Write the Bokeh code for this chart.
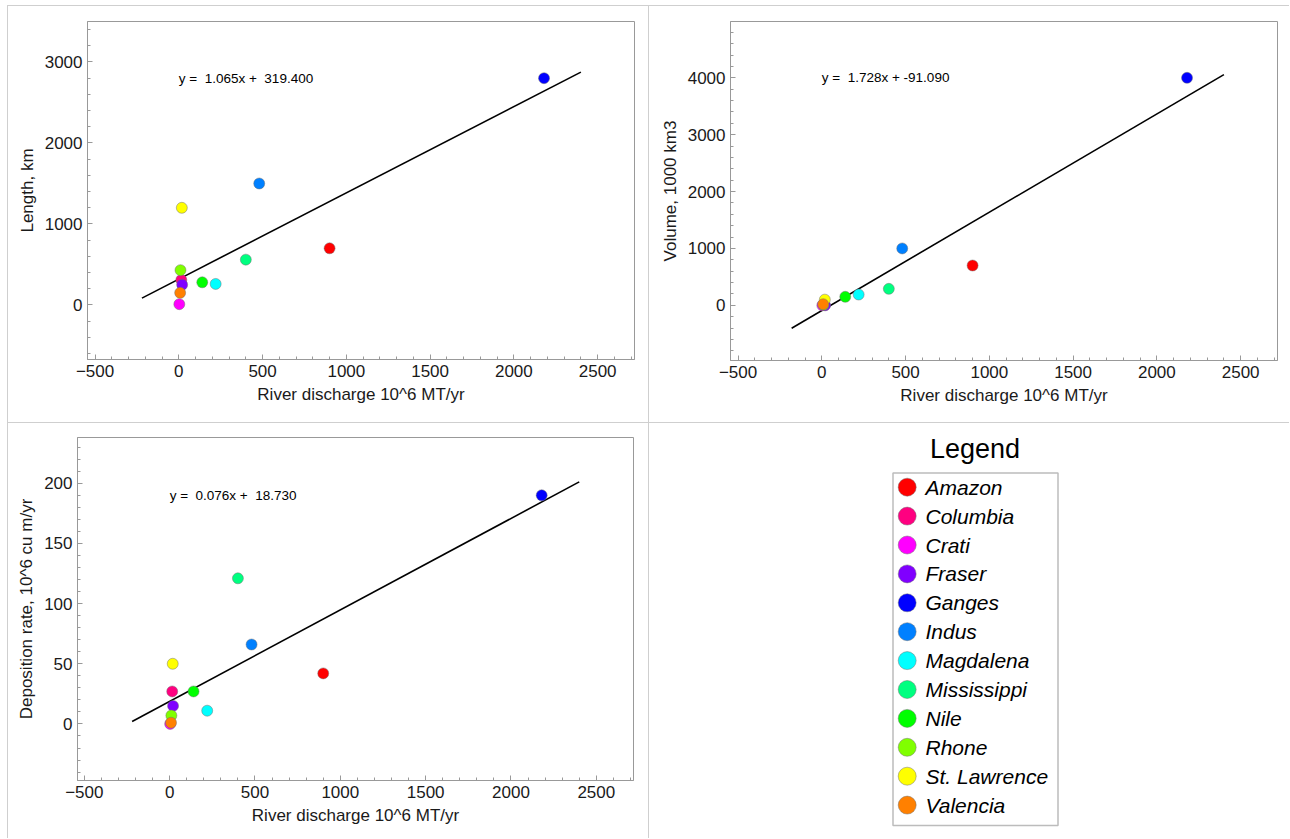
from bokeh.plotting import figure
from bokeh.models import (ColumnDataSource, SingleIntervalTicker, LinearAxis,
                          Range1d, Label, BoxAnnotation, Grid, Div)
from bokeh.embed import file_html
from bokeh.resources import INLINE
from bokeh.core.properties import value

# ---------------- data ----------------
rivers = ["Amazon", "Columbia", "Crati", "Fraser", "Ganges", "Indus",
          "Magdalena", "Mississippi", "Nile", "Rhone", "St. Lawrence", "Valencia"]
colors = ["#ff0000", "#ff0080", "#ff00ff", "#8000ff", "#0000ff", "#0080ff",
          "#00ffff", "#00ff80", "#00ff00", "#80ff00", "#ffff00", "#ff8000"]
discharge = [900, 15, 3, 20, 2180, 480, 220, 400, 140, 10, 18, 8]          # 10^6 MT/yr
length_km = [700, 310, 10, 250, 2800, 1500, 260, 560, 280, 430, 1200, 150]
volume = [700, 5, 0, 0, 4000, 1000, 190, 290, 150, 10, 100, 20]           # 1000 km3
deposition = [42, 27, 0, 15, 190, 66, 11, 121, 27, 7, 50, 1]              # 10^6 cu m/yr

fit_length = (1.065, 319.400)
fit_volume = (1.728, -91.090)
fit_deposition = (0.076, 18.730)
NB = "\u00a0"
eq_length = "y =" + NB + " 1.065x +" + NB + " 319.400"
eq_volume = "y =" + NB + " 1.728x + -91.090"
eq_deposition = "y =" + NB + " 0.076x +" + NB + " 18.730"
fit_x_length = [-220, 2400]
fit_x_volume = [-180, 2400]
fit_x_deposition = [-220, 2400]

x_label = "River discharge 10^6 MT/yr"
legend_title = "Legend"

FONT = "Liberation Sans"
FRAME = "#999999"
TXT = "#1a1a1a"
SEP = "#cfcfcf"


def place(m, left, top):
    m.styles = {"position": "absolute", "left": f"{left}px", "top": f"{top}px"}


def panel(yvals, ylabel, fit, fit_x, eq, xr, yr, y_major,
          w, h, bl, br, bt, bb):
    fw = w - bl - br
    fh = h - bt - bb
    p = figure(width=w, height=h, x_range=Range1d(*xr), y_range=Range1d(*yr),
               output_backend="svg", toolbar_location=None,
               x_axis_location=None, y_axis_location=None,
               min_border_left=bl, min_border_right=br,
               min_border_top=bt, min_border_bottom=bb)
    p.xgrid.visible = False
    p.ygrid.visible = False
    p.outline_line_color = FRAME
    p.outline_line_width = 1
    p.background_fill_color = "white"
    p.border_fill_color = "white"

    for loc in ["below", "left"]:
        if loc == "below":
            t = SingleIntervalTicker(interval=500, num_minor_ticks=5)
        else:
            t = SingleIntervalTicker(interval=y_major, num_minor_ticks=5)
        ax = LinearAxis(ticker=t)
        ax.axis_line_color = FRAME
        ax.major_tick_line_color = FRAME
        ax.minor_tick_line_color = FRAME
        ax.major_tick_in = 5
        ax.major_tick_out = 0
        ax.minor_tick_in = 3
        ax.minor_tick_out = 0
        ax.major_label_text_font = FONT
        ax.major_label_text_font_size = "17px"
        ax.major_label_text_color = TXT
        ax.major_label_standoff = 5
        ax.axis_label = x_label if loc == "below" else ylabel
        ax.axis_label_text_font = FONT
        ax.axis_label_text_font_size = "17px"
        ax.axis_label_text_font_style = "normal"
        ax.axis_label_text_color = TXT
        ax.axis_label_standoff = 5
        p.add_layout(ax, loc)

    # tick marks on the top and right frame edges (short grid segments)
    dy_per_px = (yr[1] - yr[0]) / fh
    dx_per_px = (xr[1] - xr[0]) / fw
    for interval, ln in [(100, 3), (500, 5)]:
        p.add_layout(Grid(dimension=0, ticker=SingleIntervalTicker(interval=interval, num_minor_ticks=0),
                          bounds=(yr[1] - ln * dy_per_px, yr[1]),
                          grid_line_color=FRAME, grid_line_width=1))
    for interval, ln in [(y_major / 5, 3), (y_major, 5)]:
        p.add_layout(Grid(dimension=1, ticker=SingleIntervalTicker(interval=interval, num_minor_ticks=0),
                          bounds=(xr[1] - ln * dx_per_px, xr[1]),
                          grid_line_color=FRAME, grid_line_width=1))

    slope, icpt = fit
    p.line(fit_x, [slope * x + icpt for x in fit_x], line_color="black", line_width=1.6)

    src = ColumnDataSource(dict(x=discharge, y=yvals, c=colors))
    p.scatter("x", "y", source=src, size=11, fill_color="c",
              line_color="#707070", line_width=0.6, line_alpha=0.8)

    p.add_layout(Label(x=0, y=max(yvals), text=eq, text_font=FONT,
                       text_font_size="13.5px", text_color="black",
                       text_align="left", text_baseline="middle"))
    return p


xr = (-545, 2720)
p1 = panel(length_km, "Length, km", fit_length, fit_x_length, eq_length,
           xr, (-673, 3500), 1000, 640, 416, 79, 14, 15, 63)
p2 = panel(volume, "Volume, 1000 km3", fit_volume, fit_x_volume, eq_volume,
           xr, (-970, 4990), 1000, 640, 416, 81, 12, 15, 62)
p3 = panel(deposition, "Deposition rate, 10^6 cu m/yr", fit_deposition, fit_x_deposition,
           eq_deposition, (-540, 2718), (-47, 238), 50, 640, 415, 69, 15, 14, 58)

# ---------------- legend cell ----------------
LW, LH = 640, 415
pl = figure(width=LW, height=LH, x_range=Range1d(0, LW), y_range=Range1d(LH, 0),
            output_backend="svg", toolbar_location=None,
            x_axis_location=None, y_axis_location=None,
            min_border_left=0, min_border_right=0,
            min_border_top=0, min_border_bottom=0)
pl.xgrid.visible = False
pl.ygrid.visible = False
pl.outline_line_color = None
pl.border_fill_color = "white"
pl.background_fill_color = "white"

pl.add_layout(Label(x=325.5, y=25, text=legend_title, text_font=FONT,
                    text_font_size="27px", text_color="black",
                    text_align="center", text_baseline="middle"))
pl.add_layout(BoxAnnotation(left=243.5, right=408.5, top=49.5, bottom=402,
                            fill_color=None, line_color="#222222", line_width=1.5))
n = len(rivers)
ly = [63.7 + 28.9 * i for i in range(n)]
lsrc = ColumnDataSource(dict(x=[257.7] * n, y=ly, tx=[276] * n, t=rivers, c=colors))
pl.scatter("x", "y", source=lsrc, size=18, fill_color="c",
           line_color="#707070", line_width=0.6, line_alpha=0.8)
pl.text("tx", "y", text="t", source=lsrc, text_font=value(FONT),
        text_font_style="italic", text_font_size="21px", text_color="black",
        text_baseline="middle", text_align="left")


# light separators of the 2x2 grid
def sep_line(left, top, w, h):
    d = Div(text="", width=w, height=h)
    d.styles = {"position": "absolute", "left": f"{left}px", "top": f"{top}px",
                "background-color": SEP, "width": f"{w}px", "height": f"{h}px",
                "padding": "0", "margin": "0"}
    return d


seps = [sep_line(7, 5, 1282, 1),     # top edge
        sep_line(7, 5, 1, 833),      # left edge
        sep_line(7, 422, 1282, 1),   # between rows
        sep_line(648, 5, 1, 833)]    # between columns

place(p1, 8, 6)
place(p2, 649, 6)
place(p3, 8, 423)
place(pl, 649, 423)

open("out.html", "w").write(file_html(seps + [p1, p2, p3, pl], INLINE))
